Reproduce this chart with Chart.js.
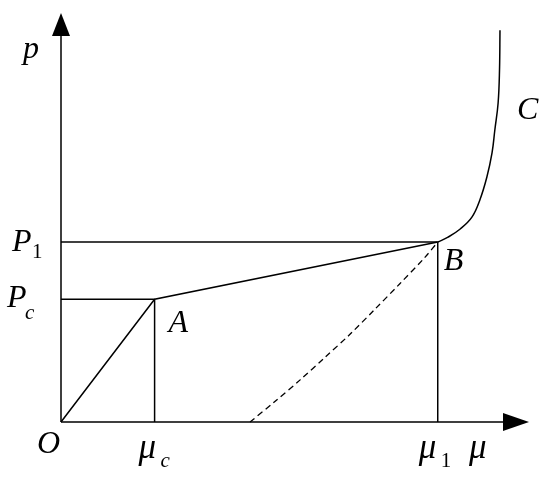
<!DOCTYPE html>
<html>
<head>
<meta charset="utf-8">
<script src="https://cdn.jsdelivr.net/npm/chart.js@4.4.0/dist/chart.umd.min.js"></script>
<style>
  html, body { margin: 0; padding: 0; background: #fff; }
  #wrap { width: 550px; height: 479px; }
</style>
</head>
<body>
<div id="wrap"><canvas id="ChartElem" width="550" height="479"></canvas></div>
<script>
// key points (strain mu, pressure p)
var muC = 2.0, mu1 = 8.05;
var pC = 3.0, p1 = 4.4;

// loading path O -> A -> B
var pathX = [0, muC, mu1];
var pathY = [0, pC, p1];

// curve C beyond B
var curveCX = [8.05, 8.27, 8.53, 8.78, 8.95, 9.10, 9.21, 9.27, 9.34, 9.37, 9.38];
var curveCY = [4.40, 4.52, 4.72, 5.01, 5.43, 5.99, 6.58, 7.14, 7.80, 8.61, 9.58];

// dashed unloading curve
var unloadX = [4.04, 4.57, 5.11, 5.64, 6.18, 6.71, 7.24, 7.78, 8.05];
var unloadY = [0, 0.50, 1.03, 1.58, 2.15, 2.76, 3.38, 4.03, 4.40];

// axis ranges
var xMax = 10, yMax = 10;

var SERIF = '"Liberation Serif", "Times New Roman", serif';

function pts(xs, ys) {
    var out = [];
    for (let i = 0; i < xs.length; i++) out.push({x: xs[i], y: ys[i]});
    return out;
}

function lineSet(data, extra) {
    var ds = {
        data: data, showLine: true, borderColor: '#000', borderWidth: 1.5,
        pointRadius: 0, fill: false, clip: false, tension: 0
    };
    for (var k in extra) ds[k] = extra[k];
    return ds;
}

// axes with arrow heads
var axesPlugin = {
    id: 'axes',
    beforeDatasetsDraw: function (chart) {
        var ctx = chart.ctx, xs = chart.scales.x, ys = chart.scales.y;
        var ox = xs.getPixelForValue(0), oy = ys.getPixelForValue(0);
        var tx = xs.getPixelForValue(xMax), ty = ys.getPixelForValue(yMax);
        ctx.save();
        ctx.strokeStyle = '#000';
        ctx.fillStyle = '#000';
        ctx.lineWidth = 1.5;
        ctx.beginPath();
        ctx.moveTo(ox, oy); ctx.lineTo(tx - 10, oy);
        ctx.moveTo(ox, oy); ctx.lineTo(ox, ty + 10);
        ctx.stroke();
        // x arrow
        ctx.beginPath();
        ctx.moveTo(tx, oy); ctx.lineTo(tx - 26, oy - 9); ctx.lineTo(tx - 26, oy + 9);
        ctx.closePath(); ctx.fill();
        // y arrow
        ctx.beginPath();
        ctx.moveTo(ox, ty); ctx.lineTo(ox - 9, ty + 23); ctx.lineTo(ox + 9, ty + 23);
        ctx.closePath(); ctx.fill();
        ctx.restore();
    }
};

// italic labels with optional subscript
var labels = [
    {t: 'p', s: '', x: 0, y: yMax, dx: -38, dy: 45},
    {t: 'C', s: '', x: 9.38, y: 9.58, dx: 17, dy: 89},
    {t: 'B', s: '', x: mu1, y: p1, dx: 6, dy: 28},
    {t: 'A', s: '', x: muC, y: pC, dx: 14, dy: 33},
    {t: 'O', s: '', x: 0, y: 0, dx: -24, dy: 31},
    {t: 'P', s: '1', x: 0, y: p1, dx: -49, dy: 9, sx: 20, sy: 7},
    {t: 'P', s: 'c', x: 0, y: pC, dx: -54, dy: 8, sx: 18, sy: 12},
    {t: '\u03bc', s: 'c', x: muC, y: 0, dx: -16, dy: 36, sx: 22, sy: 9},
    {t: '\u03bc', s: '1', x: mu1, y: 0, dx: -19, dy: 36, sx: 22, sy: 9},
    {t: '\u03bc', s: '', x: xMax, y: 0, dx: -60, dy: 36}
];

var labelPlugin = {
    id: 'labels',
    afterDatasetsDraw: function (chart) {
        var ctx = chart.ctx, xs = chart.scales.x, ys = chart.scales.y;
        ctx.save();
        ctx.fillStyle = '#000';
        ctx.textBaseline = 'alphabetic';
        ctx.textAlign = 'left';
        labels.forEach(function (l) {
            var px = xs.getPixelForValue(l.x) + l.dx;
            var py = ys.getPixelForValue(l.y) + l.dy;
            ctx.font = 'italic ' + (l.t === '\u03bc' ? 35 : 32) + 'px ' + SERIF;
            ctx.fillText(l.t, px, py);
            if (l.s) {
                ctx.font = (l.s === 'c' ? 'italic ' : '') + '21px ' + SERIF;
                ctx.fillText(l.s, px + l.sx, py + l.sy);
            }
        });
        ctx.restore();
    }
};

function BuildChart() {
    new Chart(document.getElementById('ChartElem').getContext('2d'), {
        type: 'scatter',
        data: {
            datasets: [
                lineSet(pts(pathX, pathY)),
                lineSet(pts([0, muC], [pC, pC])),
                lineSet(pts([muC, muC], [0, pC])),
                lineSet(pts([0, mu1], [p1, p1])),
                lineSet(pts([mu1, mu1], [0, p1])),
                lineSet(pts(curveCX, curveCY), {tension: 0.4}),
                lineSet(pts(unloadX, unloadY), {tension: 0.3, borderDash: [6, 4], borderWidth: 1.3})
            ]
        },
        options: {
            responsive: false,
            animation: false,
            layout: {padding: {left: 61, right: 21, top: 13, bottom: 57}},
            plugins: {legend: {display: false}, tooltip: {enabled: false}},
            scales: {
                x: {type: 'linear', min: 0, max: xMax, display: false},
                y: {type: 'linear', min: 0, max: yMax, display: false}
            }
        },
        plugins: [axesPlugin, labelPlugin]
    });
}

Promise.all([
    document.fonts.load('italic 32px ' + SERIF, 'pCBAOP\u03bc'),
    document.fonts.load('21px ' + SERIF, '1')
]).then(BuildChart, BuildChart);
</script>
</body>
</html>
